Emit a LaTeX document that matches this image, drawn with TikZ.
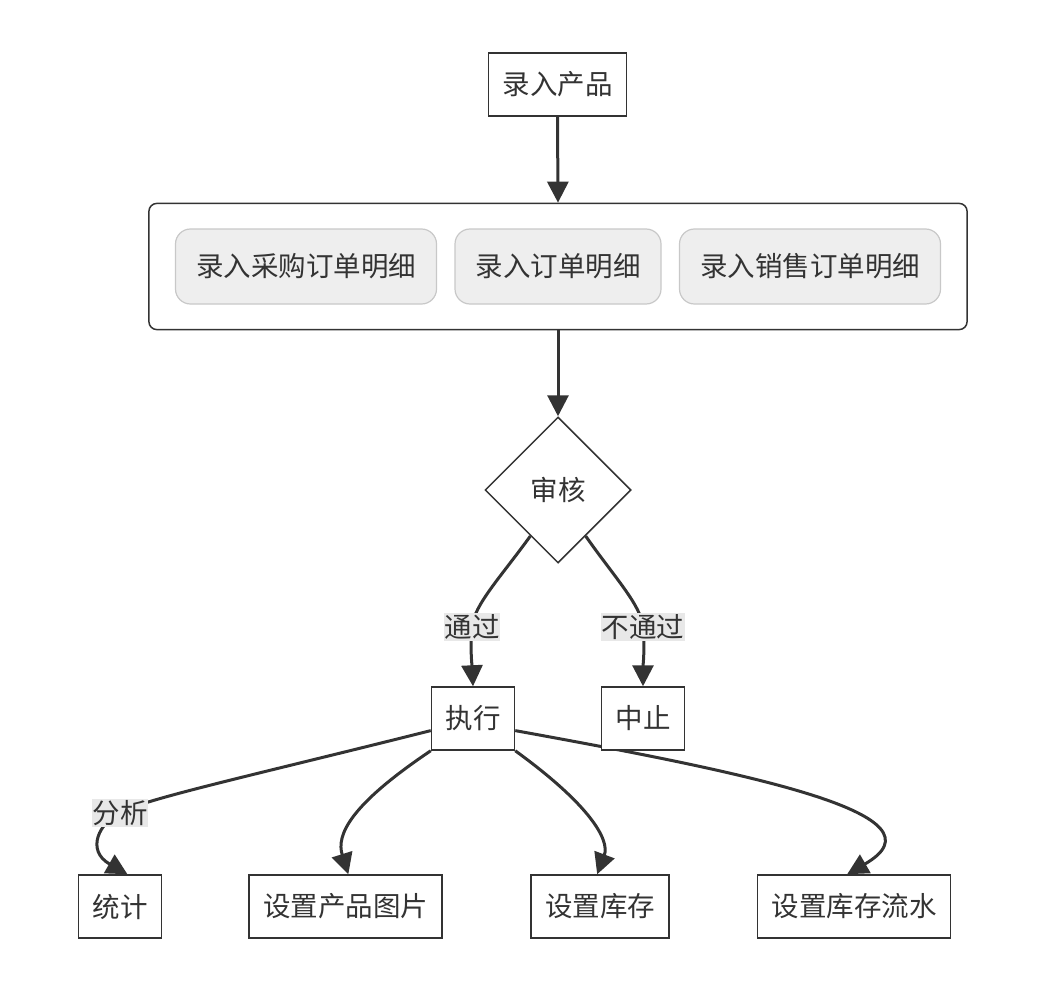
\documentclass[tikz,border=0pt]{standalone}
\usepackage{fontspec}
\setmainfont{Noto Sans CJK SC}
\usepackage{tikz}
\usetikzlibrary{arrows.meta,shapes.geometric,fit,backgrounds}
\definecolor{ink}{HTML}{333333}
\definecolor{boxgray}{HTML}{EEEEEE}
\definecolor{boxline}{HTML}{C8C8C8}
\definecolor{lblgray}{HTML}{E8E8E8}

\begin{document}
\begin{tikzpicture}[x=1pt,y=-1pt,
    font=\fontsize{27.5pt}{33pt}\selectfont, text=ink,
    box/.style={draw=ink, line width=1.5pt, fill=white, minimum height=63pt, inner xsep=14pt, inner ysep=0pt},
    subbox/.style={draw=boxline, line width=1.2pt, fill=boxgray, rounded corners=15pt, minimum height=75pt, inner xsep=20.5pt},
    lbl/.style={fill=lblgray, inner xsep=0.5pt, inner ysep=1.5pt},
    link/.style={draw=ink, line width=3pt},
    flow/.style={->, link, >={Triangle[length=21pt,width=21pt]}}]
            \useasboundingbox (0,0) rectangle (1046,995);
            \node[box] (A) at (557.5,84.5) {录入产品};
            \node[subbox] (B1) at (306,266.5) {录入采购订单明细};
            \node[subbox] (B2) at (558,266.5) {录入订单明细};
            \node[subbox] (B3) at (810,266.5) {录入销售订单明细};
            \node[draw=ink, line width=1.5pt, rounded corners=8pt, inner xsep=26pt, inner ysep=25pt, fit=(B1)(B3)] (G) {};
            \node[shape=diamond, draw=ink, line width=1.5pt, fill=white, minimum width=146pt, minimum height=146pt, aspect=1, inner sep=0pt] (D) at (558,490) {审核};
            \node[lbl] (L1) at (472,627) {通过};
            \node[lbl] (L2) at (643,627) {不通过};
            \node[box] (E) at (473,718.5) {执行};
            \node[box] (F) at (643,718.5) {中止};
            \node[lbl] (L3) at (120,813) {分析};
            \node[box] (S1) at (120,906.5) {统计};
            \node[box] (S2) at (345.5,906.5) {设置产品图片};
            \node[box] (S3) at (600,906.5) {设置库存};
            \node[box] (S4) at (854,906.5) {设置库存流水};
            \begin{scope}[on background layer]
                \draw[flow] (A.south) -- (G.north);
                \draw[flow] (G.south) -- (D.north);
                \draw[link] (D.239) .. controls (500,578) and (474,605) .. (L1.center);
                \draw[flow] (L1.center) .. controls (470,650) and (472,665) .. (E.north);
                \draw[link] (D.301) .. controls (615,578) and (641,605) .. (L2.center);
                \draw[flow] (L2.center) .. controls (645,650) and (643,665) .. (F.north);
                \draw[link] (E.196) .. controls (250,776) and (140,800) .. (L3.center);
                \draw[flow] (L3.center) .. controls (100,822) and (85,850) .. (S1.77);
                \draw[flow] (E.south west) .. controls (350,805) and (336,835) .. (S2.85);
                \draw[flow] (E.south east) .. controls (590,805) and (610,840) .. (S3.95);
                \draw[flow] (E.344) .. controls (760,775) and (950,815) .. (S4.102);
            \end{scope}
        \end{tikzpicture}
\end{document}
